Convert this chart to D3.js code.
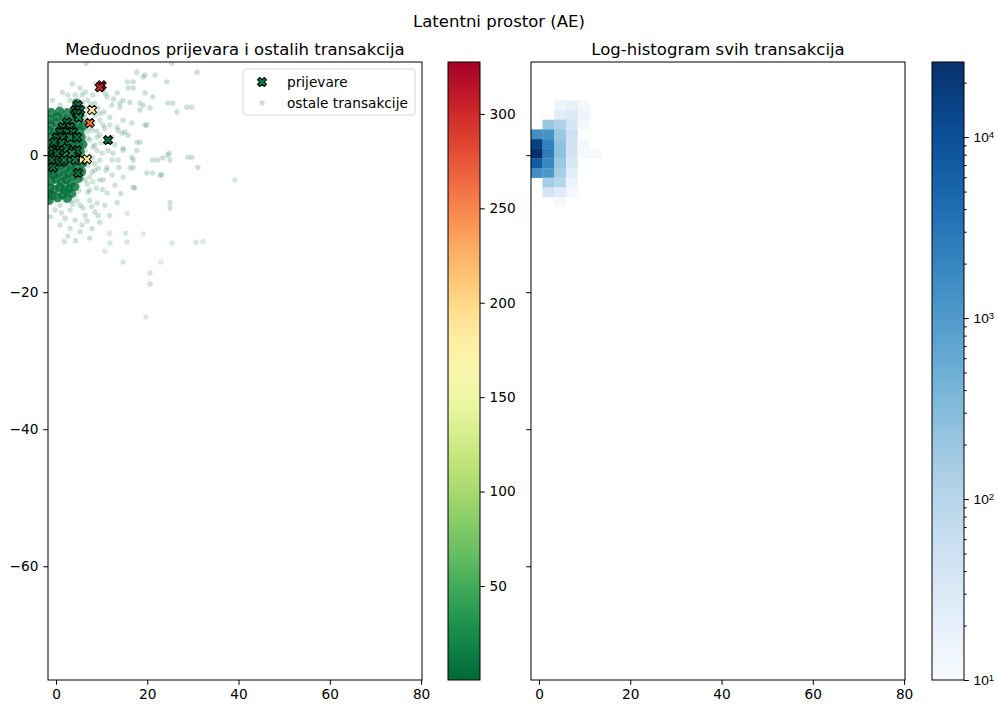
<!DOCTYPE html>
<html>
<head>
<meta charset="utf-8">
<script src="https://cdn.jsdelivr.net/npm/d3@7"></script>
<style>
body { margin: 0; background: #fff; }
svg { font-family: "DejaVu Sans", sans-serif; }
</style>
</head>
<body>
<svg id="chart" width="998" height="704"></svg>
<script>
// ---- podaci (ocitani sa slike) ----
var xRange = [-1.75, 80.2]
var yRange = [-76.6, 13.6]
var xTicks = [0, 20, 40, 60, 80]
var yTicks = [0, -20, -40, -60]
var amtTicks = [50, 100, 150, 200, 250, 300]
var countTicks = [10, 100, 1000, 10000]
var nBinsX = 32, nBinsY = 64
var countMin = 10

// prijevare: [x, y, iznos]
var prijevare = [
  [10.0, 10.2, 327.5], [9.6, 9.9, 305],
  [7.9, 6.6, 182], [7.4, 4.7, 262], [11.4, 2.2, 6],
  [5.7, -0.7, 176], [6.8, -0.6, 190], [4.8, -2.6, 9],
  [4.8, 7.3, 10], [4.2, 6.6, 3], [5.3, 6.6, 15], [4.6, 6.1, 2], [5.0, 5.5, 20],
  [2.4, 4.8, 5], [1.5, 4.1, 1], [3.1, 4.1, 12], [0.9, 3.4, 2], [2.4, 3.4, 8], [3.7, 3.4, 4],
  [0.2, 2.6, 1], [1.5, 2.6, 3], [3.1, 2.6, 18], [4.6, 2.6, 6], [-0.4, 1.9, 2], [1.3, 1.8, 9],
  [-0.7, 0.7, 1], [0.9, 0.7, 4], [2.4, 1.0, 11], [3.7, 0.7, 3], [4.6, 0.7, 7], [0.2, 0.3, 2], [3.5, 0.3, 25],
  [-0.9, -0.7, 0.2], [1.3, -1.0, 6], [1.8, -0.7, 9], [4.2, -0.7, 14], [-0.7, -1.8, 3]
]

// ostale transakcije - gusta jezgra oko ishodista: [x, y, iznos]
var jezgra = [
  [-1.4, 5.2, 4], [0.3, 5.6, 3], [1.8, 5.3, 5], [3.2, 5.0, 3], [4.4, 5.5, 6],
  [-1.1, 4.4, 3], [0.1, 4.7, 5], [1.2, 4.2, 2], [2.5, 4.6, 4], [3.7, 4.1, 5], [4.9, 4.5, 7],
  [-1.6, 3.6, 2], [-0.4, 3.3, 4], [0.7, 3.7, 3], [1.9, 3.2, 4], [3.0, 3.6, 3], [4.2, 3.1, 5], [5.2, 3.5, 8],
  [-1.3, 2.6, 3], [-0.2, 2.2, 2], [1.0, 2.7, 4], [2.2, 2.3, 5], [3.4, 2.7, 3], [4.5, 2.2, 6], [5.5, 2.6, 8],
  [-1.5, 1.6, 3], [-0.6, 1.2, 2], [0.4, 1.7, 3], [1.5, 1.3, 2], [2.7, 1.6, 4], [3.8, 1.2, 5], [4.9, 1.5, 7],
  [-1.2, 0.6, 2], [-0.1, 0.3, 1], [1.0, 0.7, 3], [2.1, 0.2, 4], [3.2, 0.6, 4], [4.3, 0.2, 5], [5.3, 0.5, 8],
  [-1.6, -0.4, 2], [-0.5, -0.7, 2], [0.6, -0.3, 3], [1.7, -0.8, 3], [2.8, -0.4, 4], [3.9, -0.9, 6], [4.8, -0.5, 7],
  [-1.2, -1.5, 3], [-0.1, -1.8, 2], [1.1, -1.4, 4], [2.2, -1.9, 4], [3.3, -1.5, 5], [4.3, -1.9, 6],
  [-1.5, -2.6, 3], [-0.5, -2.9, 3], [0.6, -2.5, 2], [1.7, -3.0, 4], [2.8, -2.6, 5], [3.8, -3.0, 6],
  [-1.1, -3.8, 3], [0.0, -3.5, 4], [1.2, -4.0, 4], [2.3, -3.6, 5], [3.2, -4.1, 6],
  [-1.4, -4.8, 3], [-0.3, -5.0, 4], [0.8, -4.7, 5], [1.9, -5.1, 5], [2.8, -4.9, 6],
  [-0.8, -5.9, 4], [0.4, -6.2, 5], [1.4, -5.8, 6],
  [3.9, 6.3, 5], [4.8, 6.8, 5], [4.5, 7.6, 6], [5.2, 5.9, 7],
  [5.8, -1.2, 6], [5.6, -2.4, 7], [4.9, -3.4, 6], [4.1, -4.6, 6], [3.4, -5.6, 6], [2.5, -6.3, 5],
  [-1.5, -6.6, 5], [5.9, 1.6, 7], [6.0, 4.3, 7], [-1.0, 6.2, 5], [0.8, 6.4, 5], [2.6, 6.2, 6],
  [-1.6, -5.7, 4]
]

// ostale transakcije - rijedi oblak i udaljene tocke: [x, y, iznos]
var ostale = [
  [17.7, 12.1, 4], [19.5, 11.7, 9], [21.7, 11.7, 3], [30.9, 12.1, 6], [15.6, 10.7, 12], [16.9, 10.7, 2],
  [16.9, 9.8, 5], [19.5, 9.1, 1], [21.2, 8.5, 8], [24.3, 10.7, 4], [24.5, 7.6, 3], [25.6, 7.6, 7],
  [28.7, 7.0, 2], [29.8, 7.0, 5], [19.1, 7.3, 10], [18.4, 6.6, 2], [14.0, 7.6, 6], [16.2, 7.7, 3],
  [16.6, 4.7, 1], [19.5, 4.4, 4], [15.1, 3.4, 7], [15.8, 2.9, 2], [18.4, 1.9, 5], [14.7, 1.0, 3],
  [16.6, -0.3, 8], [16.9, -0.7, 2], [16.2, -1.9, 4], [21.2, -0.7, 6], [22.3, -0.7, 1], [23.4, -0.4, 3],
  [24.5, 0.0, 2], [25.0, -0.7, 5], [24.8, 0.3, 1], [28.9, -0.3, 4], [29.8, -0.3, 7], [31.1, -1.8, 3],
  [19.9, -2.6, 2], [21.2, -2.6, 6], [23.2, -2.9, 4], [39.2, -3.6, 30], [16.9, -4.7, 2], [15.6, -8.5, 45],
  [25.0, -6.9, 5], [25.0, -7.7, 3], [11.8, -11.4, 40], [15.3, -11.4, 35], [19.1, -11.5, 50], [11.8, -12.8, 30],
  [15.6, -12.7, 38], [25.4, -12.8, 42], [30.7, -12.7, 36], [32.2, -12.6, 40], [10.7, -14.0, 45], [14.7, -15.6, 33],
  [23.0, -15.6, 48], [20.6, -17.2, 20], [20.6, -18.8, 8], [19.7, -23.6, 40], [25.4, 13.4, 3], [6.6, 13.4, 2],
  [19.1, 11.4, 6], [15.8, 9.8, 3], [11.2, 8.5, 5], [13.4, 9.1, 2], [14.7, 8.0, 7], [8.1, 8.8, 4],
  [5.9, 7.7, 3], [12.3, 7.3, 6], [14.0, 7.0, 2], [18.4, 7.6, 8], [20.6, 6.9, 4], [26.5, 6.3, 5],
  [9.6, 6.1, 3], [11.8, 5.5, 9], [14.7, 5.1, 4], [10.3, 4.4, 2], [13.4, 4.1, 6], [19.9, 4.4, 3],
  [9.0, 2.6, 5], [12.3, 2.6, 7], [14.5, 3.2, 2], [17.7, 1.9, 4], [8.1, 1.2, 3], [10.1, 0.3, 6],
  [12.5, 0.3, 2], [14.7, 0.7, 8], [17.7, 0.7, 3], [8.5, -1.2, 4], [11.2, -1.8, 6], [13.6, -0.7, 2],
  [16.9, -1.8, 5], [22.8, -2.9, 3], [7.4, -3.2, 7], [10.3, -3.6, 4], [14.7, -3.2, 9], [17.3, -4.8, 3],
  [7.4, -5.1, 6], [11.2, -5.5, 2], [4.6, -6.6, 5], [9.0, -7.0, 8], [13.4, -6.9, 4], [5.9, -7.7, 6],
  [5.7, 8.8, 3], [7.0, 8.0, 5], [8.5, 7.6, 2], [6.4, 6.9, 7], [8.5, 5.8, 4], [9.6, 5.1, 6],
  [10.7, 3.9, 3], [7.9, 3.6, 8], [7.0, 2.5, 5], [9.6, 2.9, 2], [8.5, 1.5, 6], [6.4, 0.7, 4],
  [7.4, 0.0, 9], [9.6, -0.7, 3], [7.0, -1.5, 5], [5.7, -2.2, 7], [7.9, -2.5, 2], [6.4, -3.6, 6],
  [4.8, -4.4, 4], [3.1, -5.1, 8], [4.2, -5.8, 3], [2.0, -6.6, 5], [5.3, -7.3, 7], [7.4, -6.6, 2],
  [3.1, -8.0, 6], [6.4, -8.8, 4], [8.5, -8.3, 9], [0.9, -7.3, 3], [-0.2, -8.0, 5], [4.2, -9.5, 7],
  [2.0, -9.2, 2], [5.7, -10.2, 6], [7.9, -10.7, 4], [9.6, -9.8, 8], [3.5, 5.8, 3], [2.0, 6.6, 5],
  [0.9, 7.3, 2], [3.1, 8.0, 6], [4.2, 8.8, 4], [5.3, 9.8, 7], [6.4, 9.2, 3], [2.6, 8.8, 5],
  [1.3, 6.3, 8], [-0.2, 5.8, 4], [-1.3, 6.6, 6], [-0.9, 5.1, 3], [9.2, 6.9, 5], [10.5, 6.3, 2],
  [11.8, 4.4, 7], [11.4, 0.7, 4], [12.3, -0.7, 6], [11.0, -2.2, 3], [9.6, -3.6, 8], [8.8, -4.8, 5],
  [7.0, -5.4, 2], [12.9, 1.5, 6], [13.6, 3.6, 4], [12.3, -2.9, 7], [12.9, -4.4, 3], [10.7, -7.3, 5],
  [9.2, -8.8, 2], [11.8, -8.8, 6], [5.3, -11.2, 4], [3.1, -10.7, 8], [7.4, -12.1, 3], [0.9, -10.2, 5],
  [5.3, 2.2, 6], [6.1, 1.5, 4], [5.3, 0.0, 8], [6.6, -0.7, 3], [5.3, -1.5, 7], [4.8, 0.7, 5],
  [5.9, 2.9, 2], [4.8, 3.9, 6], [6.6, 4.4, 4], [5.3, 5.4, 9], [7.4, 2.2, 3], [5.7, -3.4, 5],
  [4.4, -3.4, 7], [3.9, -4.5, 2], [2.2, -5.4, 6], [0.9, -6.0, 4], [0.0, -6.6, 8], [-1.3, -6.3, 3],
  [3.5, -6.6, 5], [6.4, 5.4, 7], [7.4, 6.3, 2], [6.8, 3.4, 6], [8.1, 4.8, 4], [9.0, 0.7, 5],
  [8.5, -2.2, 3], [8.1, -3.9, 6],
  [5.6, 1.0, 4], [6.2, -1.2, 6], [5.9, -2.8, 3], [6.9, -4.2, 5], [5.0, -5.2, 7], [3.6, -7.2, 4],
  [1.2, -8.4, 6], [6.0, 3.8, 3], [7.2, 4.0, 5], [6.2, 6.0, 4], [7.6, 7.4, 6], [8.9, 3.5, 2],
  [9.9, 1.8, 5], [8.0, -0.4, 3], [9.3, -1.9, 6], [10.2, -5.0, 4], [7.8, -7.5, 5], [6.8, -9.6, 3],
  [2.6, -11.8, 7], [4.3, -12.5, 4], [10.8, 9.0, 5], [12.6, 8.2, 3], [8.7, 10.4, 6], [3.6, 10.4, 4],
  [1.4, 9.2, 7], [-0.8, 8.0, 3], [-1.2, -9.0, 5], [1.8, -12.6, 4], [13.8, -1.8, 6], [14.2, -5.6, 3]
]

// 2D histogram: indeks stupca (x), indeks retka (y, od dna), broj transakcija
var histCol = [0, 0, 0, 0, 0,
  1, 1, 1, 1, 1, 1, 1, 1,
  2, 2, 2, 2, 2, 2, 2, 2, 2, 2, 2,
  3, 3, 3, 3, 3, 3, 3, 3, 3, 3,
  4, 4, 4, 4, 4,
  5]
var histRow = [56, 55, 54, 53, 52,
  57, 56, 55, 54, 53, 52, 51, 50,
  59, 58, 57, 56, 55, 54, 53, 52, 51, 50, 49,
  59, 58, 57, 56, 55, 54, 53, 52, 51, 50,
  59, 58, 57, 55, 54,
  54]
var histCount = [1500, 16000, 26000, 7000, 1500,
  200, 1300, 2200, 2500, 1800, 1100, 150, 40,
  15, 25, 120, 200, 250, 250, 200, 150, 100, 25, 12,
  20, 30, 40, 50, 45, 40, 35, 25, 15, 12,
  12, 15, 12, 11, 11,
  11]

// ---- crtanje ----
var svg = d3.select('#chart')
var fs = 13.7
var tick = 4.8

var xL = d3.scaleLinear().domain(xRange).range([48, 422])
var xR = d3.scaleLinear().domain(xRange).range([531, 905])
var y = d3.scaleLinear().domain(yRange).range([680, 62])

var allAmt = prijevare.map(function(d) { return d[2] })
var amt = d3.scaleLinear().domain(d3.extent(allAmt)).range([680, 62])
var amtColor = function(v) {
  var t = (v - amt.domain()[0]) / (amt.domain()[1] - amt.domain()[0])
  return d3.interpolateRdYlGn(1 - Math.max(0, Math.min(1, t)))
}
var cnt = d3.scaleLog().domain([countMin, d3.max(histCount)]).range([680, 62])
var cntColor = function(v) {
  var t = (Math.log10(v) - Math.log10(cnt.domain()[0])) / (Math.log10(cnt.domain()[1]) - Math.log10(cnt.domain()[0]))
  return d3.interpolateBlues(Math.max(0, Math.min(1, t)))
}

svg.append('text').attr('x', 499).attr('y', 27).attr('text-anchor', 'middle')
  .attr('font-size', 16.5).text('Latentni prostor (AE)')
svg.append('text').attr('x', 235).attr('y', 55).attr('text-anchor', 'middle')
  .attr('font-size', 16.5).text('Međuodnos prijevara i ostalih transakcija')
svg.append('text').attr('x', 718).attr('y', 55).attr('text-anchor', 'middle')
  .attr('font-size', 16.5).text('Log-histogram svih transakcija')

var defs = svg.append('defs')
defs.append('clipPath').attr('id', 'clipL').append('rect')
  .attr('x', 48).attr('y', 62).attr('width', 374).attr('height', 618)

// lijevi graf
var pl = svg.append('g').attr('clip-path', 'url(#clipL)')
pl.selectAll('circle.ost').data(ostale).enter().append('circle')
  .attr('class', 'ost')
  .attr('cx', function(d) { return xL(d[0]) })
  .attr('cy', function(d) { return y(d[1]) })
  .attr('r', 2.7)
  .attr('fill', function(d) { return amtColor(d[2]) })
  .attr('fill-opacity', 0.2)
pl.selectAll('circle.jez').data(jezgra).enter().append('circle')
  .attr('class', 'jez')
  .attr('cx', function(d) { return xL(d[0]) })
  .attr('cy', function(d) { return y(d[1]) })
  .attr('r', 4.6)
  .attr('fill', function(d) { return amtColor(d[2]) })
  .attr('fill-opacity', 0.8)

var xSym = d3.symbol().type(d3.symbolCross).size(52)
pl.selectAll('path.fr').data(prijevare).enter().append('path')
  .attr('class', 'fr')
  .attr('d', xSym)
  .attr('transform', function(d) { return 'translate(' + xL(d[0]) + ',' + y(d[1]) + ') rotate(45)' })
  .attr('fill', function(d) { return amtColor(d[2]) })
  .attr('stroke', '#000')
  .attr('stroke-width', 1)

// desni graf - histogram
var bw = (xRange[1] - xRange[0]) / nBinsX
var bh = (yRange[1] - yRange[0]) / nBinsY
svg.append('g').selectAll('rect').data(histCount).enter().append('rect')
  .attr('x', function(d, i) { return xR(xRange[0] + histCol[i] * bw) })
  .attr('y', function(d, i) { return y(yRange[0] + (histRow[i] + 1) * bh) })
  .attr('width', function(d, i) { return xR(xRange[0] + (histCol[i] + 1) * bw) - xR(xRange[0] + histCol[i] * bw) })
  .attr('height', function(d, i) { return y(yRange[0] + histRow[i] * bh) - y(yRange[0] + (histRow[i] + 1) * bh) })
  .attr('fill', function(d) { return cntColor(d) })
  .attr('stroke', function(d) { return cntColor(d) })
  .attr('stroke-width', 0.3)

// osi
function styleAxis(g) {
  g.select('.domain').remove()
  g.selectAll('text').attr('font-size', fs).attr('font-family', '"DejaVu Sans", sans-serif').attr('fill', '#000')
  g.selectAll('line').attr('stroke', '#000').attr('stroke-width', 1)
}
svg.append('g').attr('transform', 'translate(0,680)')
  .call(d3.axisBottom(xL).tickValues(xTicks).tickSize(tick).tickPadding(4.8)).call(styleAxis)
svg.append('g').attr('transform', 'translate(0,680)')
  .call(d3.axisBottom(xR).tickValues(xTicks).tickSize(tick).tickPadding(4.8)).call(styleAxis)
svg.append('g').attr('transform', 'translate(48,0)')
  .call(d3.axisLeft(y).tickValues(yTicks).tickSize(tick).tickPadding(4.8)).call(styleAxis)
svg.append('g').attr('transform', 'translate(531,0)')
  .call(d3.axisLeft(y).tickValues(yTicks).tickSize(tick).tickFormat('')).call(styleAxis)

svg.append('rect').attr('x', 48).attr('y', 62).attr('width', 374).attr('height', 618)
  .attr('fill', 'none').attr('stroke', '#000').attr('stroke-width', 1)
svg.append('rect').attr('x', 531).attr('y', 62).attr('width', 374).attr('height', 618)
  .attr('fill', 'none').attr('stroke', '#000').attr('stroke-width', 1)

// legenda
var lg = svg.append('g')
lg.append('rect').attr('x', 243).attr('y', 69).attr('width', 172).attr('height', 46).attr('rx', 3)
  .attr('fill', '#fff').attr('fill-opacity', 0.8).attr('stroke', '#d6d6d6').attr('stroke-width', 1)
lg.append('path').attr('d', xSym)
  .attr('transform', 'translate(262,82) rotate(45)')
  .attr('fill', amtColor(prijevare[10][2])).attr('stroke', '#000').attr('stroke-width', 1)
lg.append('circle').attr('cx', 262).attr('cy', 103).attr('r', 2.7)
  .attr('fill', '#9a9a9a').attr('fill-opacity', 0.35)
lg.append('text').attr('x', 287).attr('y', 87).attr('font-size', fs).text('prijevare')
lg.append('text').attr('x', 287).attr('y', 108).attr('font-size', fs).text('ostale transakcije')

// kolorbar - iznos
var gAmt = defs.append('linearGradient').attr('id', 'gAmt')
  .attr('x1', 0).attr('y1', 1).attr('x2', 0).attr('y2', 0)
d3.range(0, 1.0001, 0.05).forEach(function(t) {
  gAmt.append('stop').attr('offset', t).attr('stop-color', d3.interpolateRdYlGn(1 - t))
})
svg.append('rect').attr('x', 448).attr('y', 62).attr('width', 32).attr('height', 618)
  .attr('fill', 'url(#gAmt)').attr('stroke', '#000').attr('stroke-width', 1)
svg.append('g').attr('transform', 'translate(480,0)')
  .call(d3.axisRight(amt).tickValues(amtTicks).tickSize(tick).tickPadding(4.8)).call(styleAxis)

// kolorbar - broj (log)
var gCnt = defs.append('linearGradient').attr('id', 'gCnt')
  .attr('x1', 0).attr('y1', 1).attr('x2', 0).attr('y2', 0)
d3.range(0, 1.0001, 0.05).forEach(function(t) {
  gCnt.append('stop').attr('offset', t).attr('stop-color', d3.interpolateBlues(t))
})
svg.append('rect').attr('x', 932).attr('y', 62).attr('width', 32).attr('height', 618)
  .attr('fill', 'url(#gCnt)').attr('stroke', '#000').attr('stroke-width', 1)
var minor = cnt.ticks().filter(function(v) { return countTicks.indexOf(v) < 0 })
svg.append('g').attr('transform', 'translate(964,0)')
  .call(d3.axisRight(cnt).tickValues(minor).tickSize(2.7).tickFormat('')).call(styleAxis)
var cAx = svg.append('g').attr('transform', 'translate(964,0)')
  .call(d3.axisRight(cnt).tickValues(countTicks).tickSize(tick).tickFormat('')).call(styleAxis)
cAx.selectAll('.tick').each(function(v) {
  var t = d3.select(this).append('text').attr('x', 9.6).attr('dy', '0.32em')
    .attr('font-size', fs).attr('fill', '#000')
  t.append('tspan').text('10')
  t.append('tspan').attr('dy', '-0.45em').attr('font-size', fs * 0.7).text(Math.round(Math.log10(v)))
})
</script>
</body>
</html>
